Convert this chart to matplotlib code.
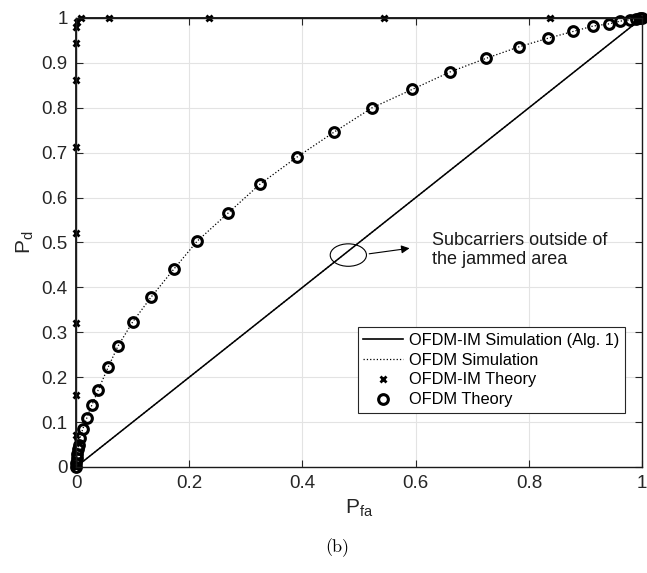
import matplotlib
matplotlib.use('Agg')
import matplotlib.pyplot as plt
from matplotlib.patches import Ellipse

plt.rcParams['font.family'] = ['Liberation Sans', 'DejaVu Sans']
plt.rcParams['mathtext.default'] = 'regular'

# OFDM theory / simulation
ofdm_pfa = [0, 0.0005, 0.001, 0.002, 0.003, 0.005, 0.007, 0.012, 0.019, 0.028,
            0.039, 0.057, 0.074, 0.1, 0.133, 0.173, 0.214, 0.269, 0.325, 0.39,
            0.456, 0.523, 0.594, 0.661, 0.724, 0.783, 0.834, 0.878, 0.913,
            0.942, 0.961, 0.979, 0.99, 0.996, 1]
ofdm_pd = [0, 0.01, 0.02, 0.03, 0.04, 0.05, 0.065, 0.085, 0.109, 0.138,
           0.171, 0.223, 0.269, 0.323, 0.379, 0.441, 0.503, 0.566, 0.63, 0.69,
           0.746, 0.8, 0.841, 0.88, 0.91, 0.936, 0.955, 0.97, 0.982,
           0.987, 0.993, 0.996, 0.998, 0.999, 1]

# OFDM-IM theory
im_pfa = [0, 0, 0, 0, 0, 0, 0, 0, 0, 0.002, 0.008, 0.058, 0.235, 0.544, 0.837, 1]
im_pd = [0, 0.071, 0.16, 0.321, 0.521, 0.713, 0.862, 0.944, 0.98, 0.992, 1, 1, 1, 1, 1, 1]

# OFDM-IM simulation
im_sim_pfa = [0, 0, 0.005, 1]
im_sim_pd = [0, 0.99, 1, 1]

# subcarriers outside the jammed area
out_pfa = [0, 1]
out_pd = [0, 1]

xticks = [0, 0.2, 0.4, 0.6, 0.8, 1]
xlabels = ['0', '0.2', '0.4', '0.6', '0.8', '1']
yticks = [0, 0.1, 0.2, 0.3, 0.4, 0.5, 0.6, 0.7, 0.8, 0.9, 1]
ylabels = ['0', '0.1', '0.2', '0.3', '0.4', '0.5', '0.6', '0.7', '0.8', '0.9', '1']

fig = plt.figure(figsize=(6.47, 5.73), dpi=100)
ax = fig.add_axes([0.1175, 0.185, 0.875, 0.7836])

ax.plot(im_sim_pfa, im_sim_pd, 'k-', lw=1.2, clip_on=False, label='OFDM-IM Simulation (Alg. 1)')
ax.plot(ofdm_pfa, ofdm_pd, 'k:', lw=0.9, clip_on=False, label='OFDM Simulation')
ax.plot(im_pfa, im_pd, 'kx', ms=4.5, mew=2, clip_on=False, label='OFDM-IM Theory')
ax.plot(ofdm_pfa, ofdm_pd, 'ko', ms=7, mfc='none', mew=2.2, clip_on=False, label='OFDM Theory')
ax.plot(out_pfa, out_pd, 'k-', lw=1.1)
ax.plot(out_pfa, out_pd, 'k:', lw=0.9)

ax.add_patch(Ellipse((0.481, 0.472), 0.064, 0.05, fill=False, ec='k', lw=0.8))
ax.annotate('', xy=(0.594, 0.488), xytext=(0.513, 0.474),
            arrowprops=dict(arrowstyle='-|>', color='k', lw=0.8, mutation_scale=12))
ax.text(0.628, 0.484, 'Subcarriers outside of\nthe jammed area', fontsize=13,
        va='center', ha='left', linespacing=1.15, color='#1a1a1a')

ax.set_xlim(0, 1)
ax.set_ylim(0, 1)
ax.set_xticks(xticks)
ax.set_xticklabels(xlabels)
ax.set_yticks(yticks)
ax.set_yticklabels(ylabels)
ax.tick_params(direction='in', top=True, right=True, labelsize=13.5, colors='#262626',
               length=5, width=0.8, pad=6)
ax.grid(True, color='#e3e3e3', lw=0.8)
ax.set_axisbelow(True)
for s in ax.spines.values():
    s.set_linewidth(1.0)
    s.set_color('#1a1a1a')

ax.set_xlabel('P$_{fa}$', fontsize=15, labelpad=4, color='#262626')
ax.set_ylabel('P$_d$', fontsize=15, labelpad=4, color='#262626')

leg = ax.legend(loc='upper right', bbox_to_anchor=(0.97, 0.312), borderaxespad=0,
                fontsize=11.8, fancybox=False, edgecolor='#262626', framealpha=1,
                handlelength=2.4, handletextpad=0.4, borderpad=0.35, labelspacing=0.3)
leg.get_frame().set_linewidth(0.8)

fig.text(0.521, 0.044, '(b)', fontsize=13, family='cmr10', ha='center', va='center')

fig.savefig('out.png', dpi=100)
